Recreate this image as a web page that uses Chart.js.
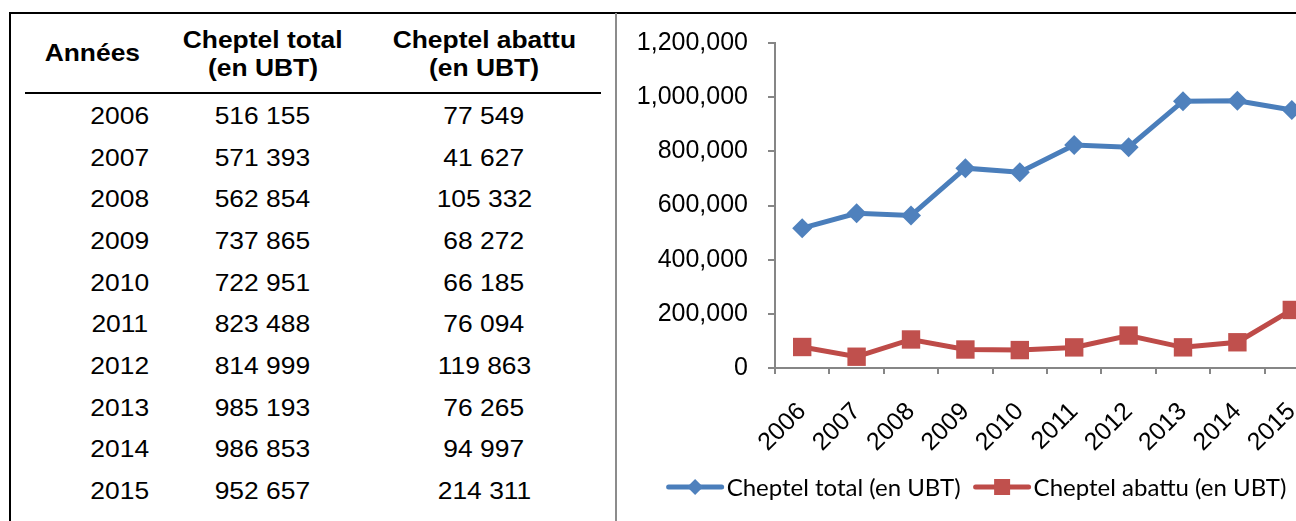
<!DOCTYPE html>
<html>
<head>
<meta charset="utf-8">
<script src="https://cdn.jsdelivr.net/npm/chart.js@4"></script>
<style>
  html, body { margin:0; padding:0; background:#fff; }
  #page { position:relative; width:1296px; height:521px; overflow:hidden; background:#fff; }
  .ln { position:absolute; }
  .cell { position:absolute; font-family:"Liberation Sans", Arial, sans-serif; color:#000; text-align:center; white-space:nowrap; }
  .cell span { display:inline-block; transform:scaleX(1.1); }
  .hdr { font-weight:bold; font-size:24px; line-height:28px; }
  .val { font-size:24px; }
  #c { position:absolute; left:617px; top:14px; }
</style>
</head>
<body>
<div id="page">
  <div class="ln" style="left:9px;top:12px;width:1287px;height:2px;background:#000"></div>
  <div class="ln" style="left:9px;top:12px;width:2px;height:509px;background:#000"></div>
  <div class="ln" style="left:615px;top:13px;width:2px;height:508px;background:#8c8c8c"></div>
  <div class="ln" style="left:25px;top:92px;width:576px;height:2px;background:#000"></div>
  <div id="table"></div>
  <canvas id="c" width="720" height="507"></canvas>
</div>
<script>
const years = ['2006','2007','2008','2009','2010','2011','2012','2013','2014','2015'];
const cheptelTotal = [516155, 571393, 562854, 737865, 722951, 823488, 814999, 985193, 986853, 952657];
const cheptelAbattu = [77549, 41627, 105332, 68272, 66185, 76094, 119863, 76265, 94997, 214311];
const headers = [['Années'], ['Cheptel total', '(en UBT)'], ['Cheptel abattu', '(en UBT)']];
const seriesLabels = ['Cheptel total (en UBT)', 'Cheptel abattu (en UBT)'];

// ---------- table ----------
const spaceFmt = n => String(n).replace(/\B(?=(\d{3})+(?!\d))/g, ' ');
const commaFmt = n => String(n).replace(/\B(?=(\d{3})+(?!\d))/g, ',');
const tbl = document.getElementById('table');
function addCell(text, cx, cy, w, cls, lh) {
  const d = document.createElement('div');
  d.className = 'cell ' + cls;
  d.style.left = (cx - w / 2) + 'px';
  d.style.width = w + 'px';
  d.style.top = (cy - lh / 2) + 'px';
  d.style.height = lh + 'px';
  d.style.lineHeight = lh + 'px';
  const s = document.createElement('span');
  s.textContent = text;
  d.appendChild(s);
  tbl.appendChild(d);
}
const headerX = [92, 263, 484];
addCell(headers[0][0], headerX[0], 53, 180, 'hdr', 28);
addCell(headers[1][0], headerX[1], 40, 220, 'hdr', 28);
addCell(headers[1][1], headerX[1], 68, 220, 'hdr', 28);
addCell(headers[2][0], headerX[2], 40, 220, 'hdr', 28);
addCell(headers[2][1], headerX[2], 68, 220, 'hdr', 28);
const colX = [120, 262, 484];
years.forEach((yr, i) => {
  const cy = 116 + i * 41.67;
  addCell(yr, colX[0], cy, 120, 'val', 40);
  addCell(spaceFmt(cheptelTotal[i]), colX[1], cy, 160, 'val', 40);
  addCell(spaceFmt(cheptelAbattu[i]), colX[2], cy, 160, 'val', 40);
});

// ---------- chart ----------
const BLUE_LINE = '#4A7EBB', BLUE = '#4F81BD';
const RED_LINE = '#BE4B48', RED = '#C0504D';
const AXIS = '#868686';

function drawMarker(ctx, style, x, y, r, color) {
  ctx.fillStyle = color;
  ctx.beginPath();
  if (style === 'rectRot') {
    ctx.moveTo(x - r, y); ctx.lineTo(x, y - r); ctx.lineTo(x + r, y); ctx.lineTo(x, y + r);
  } else {
    ctx.rect(x - r, y - r, 2 * r, 2 * r);
  }
  ctx.closePath();
  ctx.fill();
}

const legendPlugin = {
  id: 'xlLegend',
  afterDraw(chart) {
    const ctx = chart.ctx;
    ctx.save();
    ctx.font = '24px Lato, "Open Sans", sans-serif';
    ctx.textBaseline = 'middle';
    ctx.textAlign = 'left';
    const lineLen = 55, gap = 4, spacing = 14, cy = 473, centerX = 360;
    const items = chart.data.datasets.map(ds => ({ ds, w: ctx.measureText(ds.label).width }));
    let total = items.reduce((a, it) => a + lineLen + gap + it.w, 0) + spacing * (items.length - 1);
    let x = centerX - total / 2;
    items.forEach(it => {
      ctx.strokeStyle = it.ds.borderColor;
      ctx.lineWidth = 5;
      ctx.lineCap = 'round';
      ctx.beginPath(); ctx.moveTo(x + 1, cy); ctx.lineTo(x + lineLen - 1, cy); ctx.stroke();
      drawMarker(ctx, it.ds.pointStyle, x + lineLen / 2, cy, 8, it.ds.pointBackgroundColor);
      ctx.fillStyle = '#000';
      ctx.fillText(it.ds.label, x + lineLen + gap, cy + 1);
      x += lineLen + gap + it.w + spacing;
    });
    ctx.restore();
  }
};

new Chart(document.getElementById('c'), {
  type: 'line',
  data: {
    labels: years,
    datasets: [
      { label: seriesLabels[0], data: cheptelTotal, borderColor: BLUE_LINE, backgroundColor: BLUE,
        borderWidth: 5, tension: 0, pointStyle: 'rectRot', pointRadius: 10,
        pointBackgroundColor: BLUE, pointBorderColor: BLUE, pointBorderWidth: 0 },
      { label: seriesLabels[1], data: cheptelAbattu, borderColor: RED_LINE, backgroundColor: RED,
        borderWidth: 5, tension: 0, pointStyle: 'rect', pointRadius: 13,
        pointBackgroundColor: RED, pointBorderColor: RED, pointBorderWidth: 0 }
    ]
  },
  options: {
    responsive: false, animation: false, devicePixelRatio: 1,
    layout: { padding: { left: 0, right: 18, top: 29, bottom: 58 } },
    plugins: { legend: { display: false }, tooltip: { enabled: false } },
    scales: {
      x: {
        type: 'category', offset: true,
        grid: { offset: true, drawOnChartArea: false, drawTicks: true, tickLength: 6, color: AXIS, lineWidth: 2 },
        border: { color: AXIS, width: 2 },
        ticks: { minRotation: 45, maxRotation: 45, autoSkip: false, padding: 23, color: '#000',
                 font: { family: 'Liberation Sans', size: 25 } },
        afterFit(s) { s.height = 95; }
      },
      y: {
        min: 0, max: 1200000,
        grid: { drawOnChartArea: false, drawTicks: true, tickLength: 7, color: AXIS, lineWidth: 2 },
        border: { color: AXIS, width: 2 },
        ticks: { stepSize: 200000, padding: 20, color: '#000', font: { family: 'Liberation Sans', size: 25 },
                 callback: v => commaFmt(v) },
        afterFit(s) { s.width = 158; s.paddingTop = 0; s.paddingBottom = 0; }
      }
    }
  },
  plugins: [legendPlugin]
});
</script>
</body>
</html>
